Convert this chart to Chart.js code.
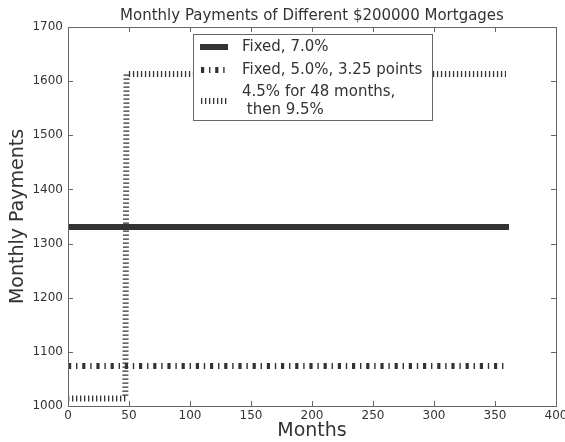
<!DOCTYPE html>
<html>
<head>
<meta charset="utf-8">
<script src="https://cdn.jsdelivr.net/npm/chart.js@4"></script>
<style>
  html, body { margin: 0; padding: 0; background: #fff; }
  canvas { display: block; }
</style>
</head>
<body>
<canvas id="c" width="565" height="442"></canvas>
<script>
// ---- data ----
const chartTitle = 'Monthly Payments of Different $200000 Mortgages';
const xAxisTitle = 'Months';
const yAxisTitle = 'Monthly Payments';

const fixed7Months = [0, 359];
const fixed7Payments = [1330.6, 1330.6];

const fixed5Months = [0, 359];
const fixed5Payments = [1074, 1074];

const armMonths = [0, 47, 48, 359];
const armPayments = [1014, 1014, 1613, 1613];

const seriesLabels = [
  ['Fixed, 7.0%'],
  ['Fixed, 5.0%, 3.25 points'],
  ['4.5% for 48 months,', ' then 9.5%']
];

const xMin = 0, xMax = 400, xStep = 50;
const yMin = 1000, yMax = 1700, yStep = 100;

// ---- build datasets ----
function pts(xs, ys) { return xs.map((x, i) => ({ x: x, y: ys[i] })); }

const LINE = '#333333';
const FONT = 'DejaVu Sans';

const datasets = [
  { label: seriesLabels[0].join('\n'), data: pts(fixed7Months, fixed7Payments),
    borderColor: LINE, borderWidth: 6, borderCapStyle: 'square', borderDash: [] },
  { label: seriesLabels[1].join('\n'), data: pts(fixed5Months, fixed5Payments),
    borderColor: LINE, borderWidth: 6, borderCapStyle: 'butt', borderDash: [3.2, 4.8, 1.4, 4.8] },
  { label: seriesLabels[2].join('\n'), data: pts(armMonths, armPayments),
    borderColor: LINE, borderWidth: 6, borderCapStyle: 'butt', borderDash: [1.3, 2.7] }
].map(d => Object.assign(d, { pointRadius: 0, fill: false, tension: 0, backgroundColor: LINE }));

const frame = {
  id: 'frame',
  beforeDraw(chart) {
    const ctx = chart.ctx;
    ctx.save();
    ctx.fillStyle = '#fff';
    ctx.fillRect(0, 0, chart.width, chart.height);
    ctx.restore();
  },
  afterDatasetsDraw(chart) {
    const ctx = chart.ctx;
    const a = chart.chartArea;
    const xs = chart.scales.x, ys = chart.scales.y;
    ctx.save();
    // box
    ctx.strokeStyle = '#666';
    ctx.lineWidth = 1;
    ctx.strokeRect(Math.round(a.left) + 0.5, Math.round(a.top) + 0.5,
                   Math.round(a.right - a.left), Math.round(a.bottom - a.top));
    // inward ticks
    const tl = 5;
    ctx.beginPath();
    xs.ticks.forEach(t => {
      const px = Math.round(xs.getPixelForValue(t.value)) + 0.5;
      ctx.moveTo(px, a.bottom); ctx.lineTo(px, a.bottom - tl);
      ctx.moveTo(px, a.top); ctx.lineTo(px, a.top + tl);
    });
    ys.ticks.forEach(t => {
      const py = Math.round(ys.getPixelForValue(t.value)) + 0.5;
      ctx.moveTo(a.left, py); ctx.lineTo(a.left + tl, py);
      ctx.moveTo(a.right, py); ctx.lineTo(a.right - tl, py);
    });
    ctx.stroke();

    // legend
    const lx = 193, ly = 34, lw = 239, lh = 86;
    ctx.fillStyle = '#fff';
    ctx.fillRect(lx, ly, lw, lh);
    ctx.strokeStyle = '#666';
    ctx.strokeRect(lx + 0.5, ly + 0.5, lw, lh);
    const rows = [
      { sampleY: 47, textYs: [47] },
      { sampleY: 70, textYs: [70] },
      { sampleY: 101, textYs: [92, 110] }
    ];
    ctx.font = '15px "' + FONT + '"';
    ctx.textBaseline = 'middle';
    ctx.textAlign = 'left';
    chart.data.datasets.forEach((ds, i) => {
      const r = rows[i];
      ctx.save();
      ctx.strokeStyle = ds.borderColor;
      ctx.lineWidth = ds.borderWidth;
      ctx.lineCap = ds.borderCapStyle;
      ctx.setLineDash(ds.borderDash);
      ctx.beginPath();
      if (ds.borderCapStyle === 'square') {
        ctx.moveTo(203, r.sampleY); ctx.lineTo(225, r.sampleY);
      } else {
        ctx.moveTo(201, r.sampleY); ctx.lineTo(228, r.sampleY);
      }
      ctx.stroke();
      ctx.restore();
      ctx.fillStyle = '#333';
      seriesLabels[i].forEach((line, k) => ctx.fillText(line, 242, r.textYs[k]));
    });
    ctx.restore();
  }
};

new Chart(document.getElementById('c'), {
  type: 'line',
  data: { datasets: datasets },
  plugins: [frame],
  options: {
    responsive: false,
    animation: false,
    devicePixelRatio: 1,
    layout: { padding: { left: 0, right: 9, top: 0, bottom: 0 } },
    plugins: {
      legend: { display: false },
      tooltip: { enabled: false },
      title: {
        display: true, text: chartTitle, color: '#333', fullSize: false,
        font: { family: FONT, size: 15, weight: 'normal' },
        padding: { top: 7, bottom: 2 }
      }
    },
    scales: {
      x: {
        type: 'linear', min: xMin, max: xMax,
        ticks: { stepSize: xStep, color: '#333', padding: 3, maxRotation: 0,
                 font: { family: FONT, size: 12 }, callback: v => String(v) },
        grid: { display: false, drawTicks: false },
        border: { display: false },
        title: { display: true, text: xAxisTitle, color: '#333',
                 font: { family: FONT, size: 19 }, padding: { top: 0, bottom: 0 } },
        afterFit(s) { s.height = 36; s.paddingLeft = 0; s.paddingRight = 0; }
      },
      y: {
        type: 'linear', min: yMin, max: yMax,
        ticks: { stepSize: yStep, color: '#333', padding: 5,
                 font: { family: FONT, size: 12 }, callback: v => String(v) },
        grid: { display: false, drawTicks: false },
        border: { display: false },
        title: { display: true, text: yAxisTitle, color: '#333',
                 font: { family: FONT, size: 19 }, padding: { top: 6.6, bottom: 0 } },
        afterFit(s) { s.width = 68; s.paddingTop = 0; s.paddingBottom = 0; }
      }
    }
  }
});
</script>
</body>
</html>
